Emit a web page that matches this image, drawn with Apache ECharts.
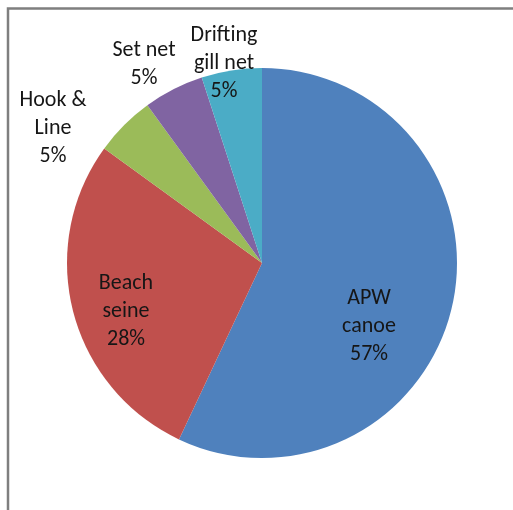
<!DOCTYPE html>
<html>
<head>
<meta charset="utf-8">
<script src="https://cdn.jsdelivr.net/npm/echarts@6/dist/echarts.min.js"></script>
<style>
  html, body { margin: 0; padding: 0; background: #fff; }
  #chart { width: 513px; height: 510px; }
</style>
</head>
<body>
<div id="chart"></div>
<script>
// Fishing gear shares
const categories = ['APW\ncanoe', 'Beach\nseine', 'Hook &\nLine', 'Set net', 'Drifting\ngill net'];
const shares = [57, 28, 5, 5, 5];
const colors = ['#4F81BD', '#C0504D', '#9BBB59', '#8064A2', '#4BACC6'];

// label block centres (px) for each slice
const labelSpots = [[369, 326], [126, 311], [53, 128], [144, 64], [224, 63]];

const chart = echarts.init(document.getElementById('chart'), null, { renderer: 'canvas' });

chart.setOption({
  animation: false,
  backgroundColor: '#ffffff',
  graphic: [{
    type: 'rect',
    shape: { x: 8, y: 8.5, width: 540, height: 540 },
    style: { fill: 'none', stroke: '#7f7f7f', lineWidth: 2.5 },
    silent: true
  }],
  series: [{
    type: 'pie',
    center: [262, 263],
    radius: 195,
    startAngle: 90,
    clockwise: true,
    avoidLabelOverlap: false,
    itemStyle: { borderWidth: 0 },
    label: {
      show: true,
      position: 'inside',
      formatter: p => p.name + '\n' + p.value + '%',
      fontFamily: 'Carlito, Lato, "Open Sans", sans-serif',
      fontSize: 22,
      lineHeight: 28,
      color: '#161616',
      align: 'center',
      verticalAlign: 'middle'
    },
    labelLine: { show: false },
    labelLayout: params => ({
      x: labelSpots[params.dataIndex][0],
      y: labelSpots[params.dataIndex][1],
      align: 'center',
      verticalAlign: 'middle'
    }),
    data: categories.map((c, i) => ({
      name: c,
      value: shares[i],
      itemStyle: { color: colors[i] }
    }))
  }]
});
</script>
</body>
</html>
